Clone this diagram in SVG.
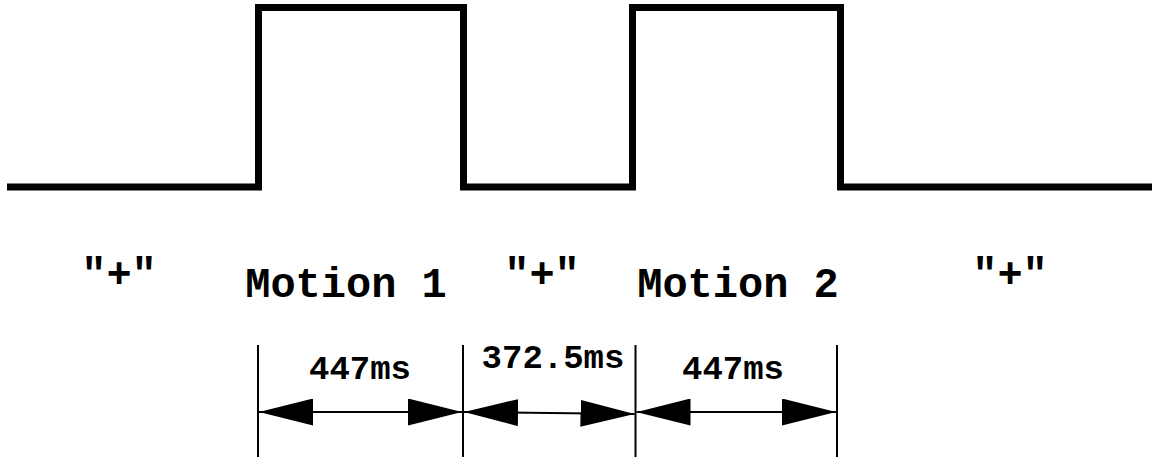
<svg xmlns="http://www.w3.org/2000/svg" width="1158" height="459" viewBox="0 0 1158 459">
<style>
.wave{fill:none;stroke:#000;stroke-width:7;stroke-linejoin:miter}
.tick{stroke:#000;stroke-width:2}
.dim{stroke:#000;stroke-width:2;fill:none}
.big{font-family:"Liberation Mono","Courier New",monospace;font-weight:bold;font-size:42px;fill:#000;text-anchor:middle}
.small{font-family:"Liberation Mono","Courier New",monospace;font-weight:bold;font-size:34px;fill:#000;text-anchor:middle}
</style>
<defs>
<marker id="ah" markerUnits="userSpaceOnUse" viewBox="0 0 54 27" refX="54" refY="13.5" markerWidth="54" markerHeight="27" orient="auto-start-reverse">
<path d="M0,0 L54,13.5 L0,27 Z" fill="#000"/>
</marker>
</defs>
<g id="waveform">
<polyline class="wave" points="7,187 258.5,187 258.5,7.5 463.5,7.5 463.5,187 632.5,187 632.5,7.5 840.5,7.5 840.5,187 1152,187"/>
</g>
<g id="labels">
<text class="big" x="119" y="287">"+"</text>
<text class="big" x="346" y="297">Motion 1</text>
<text class="big" x="542" y="287">"+"</text>
<text class="big" x="738" y="297">Motion 2</text>
<text class="big" x="1010" y="287">"+"</text>
</g>
<g id="connectors">
<line class="tick" x1="258" y1="345" x2="258" y2="457"/>
<line class="tick" x1="463" y1="345" x2="463" y2="457"/>
<line class="tick" x1="635.5" y1="345" x2="635.5" y2="457"/>
<line class="tick" x1="837" y1="345" x2="837" y2="457"/>
<line class="dim" x1="259" y1="412" x2="462" y2="412" marker-start="url(#ah)" marker-end="url(#ah)"/>
<line class="dim" x1="464" y1="412" x2="634.5" y2="414" marker-start="url(#ah)" marker-end="url(#ah)"/>
<line class="dim" x1="636.5" y1="412" x2="836" y2="412" marker-start="url(#ah)" marker-end="url(#ah)"/>
</g>
<g id="dims">
<text class="small" x="360" y="379">447ms</text>
<text class="small" x="553" y="368">372.5ms</text>
<text class="small" x="733" y="379">447ms</text>
</g>
</svg>
